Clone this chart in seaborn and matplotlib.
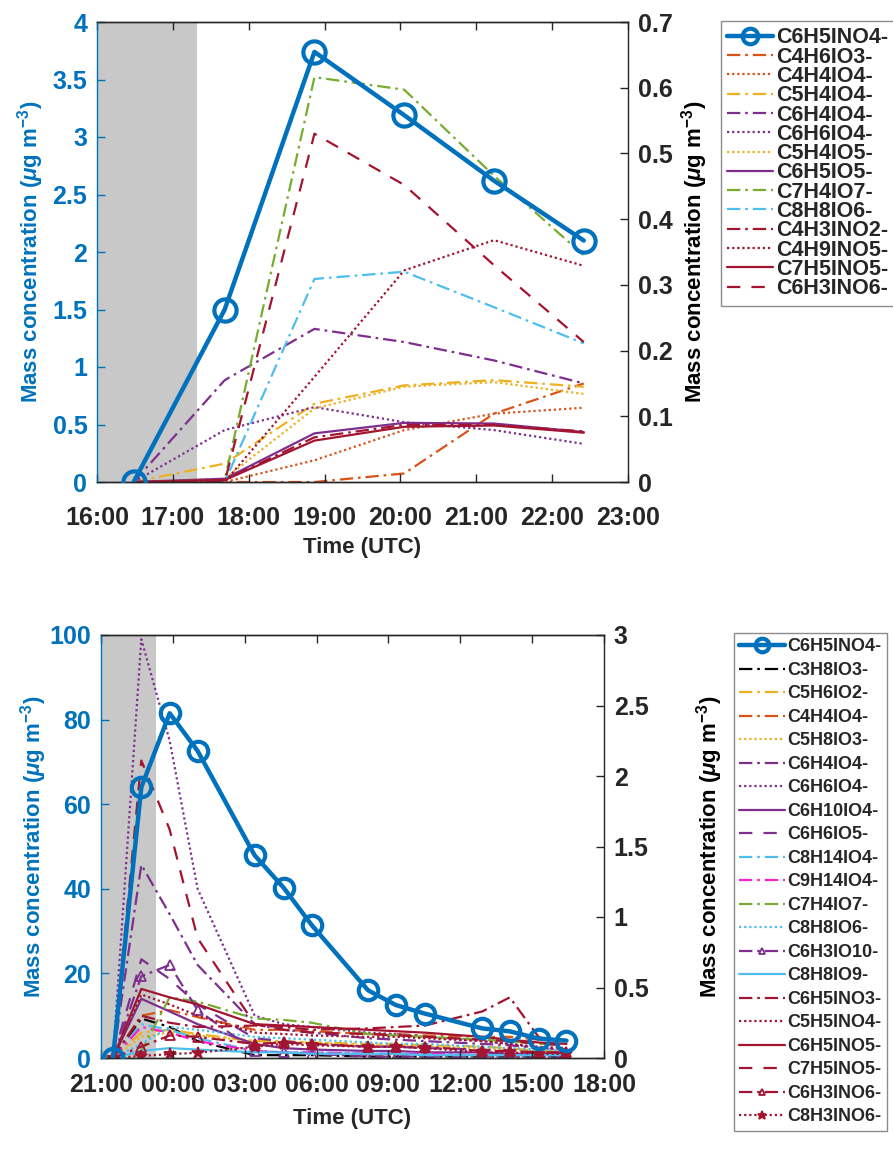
import matplotlib
matplotlib.use("Agg")
import matplotlib.pyplot as plt
import seaborn as sns
from matplotlib.ticker import FuncFormatter, FixedLocator

# ------------------------------------------------------------------
# Panel (a) data
# ------------------------------------------------------------------
top_times = ["16:29", "17:41", "18:52", "20:03", "21:14", "22:25"]
top_main_name = "C6H5INO4-"
top_main = [0.0, 1.50, 3.74, 3.19, 2.62, 2.10]          # left axis

top_C4H6IO3 = [0.0, 0.0, 0.0, 0.013, 0.104, 0.150]
top_C4H4IO4 = [0.0, 0.0, 0.033, 0.079, 0.104, 0.113]
top_C5H4IO4 = [0.0, 0.028, 0.119, 0.147, 0.155, 0.145]
top_C6H4IO4 = [0.0, 0.155, 0.233, 0.213, 0.185, 0.150]
top_C6H6IO4 = [0.0, 0.079, 0.114, 0.091, 0.079, 0.058]
top_C5H4IO5 = [0.0, 0.005, 0.112, 0.145, 0.152, 0.134]
top_C6H5IO5 = [0.0, 0.005, 0.074, 0.090, 0.089, 0.076]
top_C7H4IO7 = [0.0, 0.003, 0.616, 0.597, 0.466, 0.345]
top_C8H8IO6 = [0.0, 0.0, 0.309, 0.320, 0.266, 0.211]
top_C4H3INO2 = [0.0, 0.003, 0.068, 0.087, 0.087, 0.077]
top_C4H9INO5 = [0.0, 0.0, 0.160, 0.322, 0.368, 0.329]
top_C7H5INO5 = [0.0, 0.003, 0.063, 0.084, 0.086, 0.075]
top_C6H3INO6 = [0.0, 0.0, 0.530, 0.452, 0.330, 0.213]

top_xticklabels = ["16:00", "17:00", "18:00", "19:00", "20:00", "21:00", "22:00", "23:00"]
top_left_ticks = [0, 0.5, 1, 1.5, 2, 2.5, 3, 3.5, 4]
top_right_ticks = [0, 0.1, 0.2, 0.3, 0.4, 0.5, 0.6, 0.7]
top_shade = ["16:00", "17:19"]

# ------------------------------------------------------------------
# Panel (b) data
# ------------------------------------------------------------------
bot_times = ["21:30", "22:41", "23:52", "01:02", "03:25", "04:38", "05:48",
             "08:09", "09:19", "10:31", "12:55", "14:04", "15:16", "16:26"]
bot_main_name = "C6H5INO4-"
bot_main = [0.0, 64.0, 81.5, 72.6, 47.9, 40.2, 31.4, 16.0, 12.5, 10.5, 7.0, 6.3, 4.6, 4.1]

bot_C3H8IO3 = [0, 0.28, 0.22, 0.12, 0.02, 0.02, 0.02, 0.01, 0.01, 0.01, 0.01, 0.01, 0.01, 0.01]
bot_C5H6IO2 = [0, 0.18, 0.20, 0.17, 0.12, 0.12, 0.11, 0.10, 0.10, 0.09, 0.08, 0.07, 0.05, 0.05]
bot_C4H4IO4 = [0, 0.30, 0.34, 0.29, 0.20, 0.20, 0.19, 0.17, 0.17, 0.16, 0.15, 0.15, 0.13, 0.13]
bot_C5H8IO3 = [0, 0.15, 0.18, 0.16, 0.12, 0.11, 0.11, 0.09, 0.09, 0.08, 0.07, 0.06, 0.05, 0.05]
bot_C6H4IO4 = [0, 1.37, 1.02, 0.66, 0.24, 0.20, 0.18, 0.14, 0.13, 0.12, 0.10, 0.09, 0.07, 0.06]
bot_C6H6IO4 = [0, 2.97, 2.25, 1.20, 0.30, 0.24, 0.22, 0.18, 0.17, 0.15, 0.12, 0.10, 0.07, 0.06]
bot_C6H10IO4 = [0, 0.42, 0.33, 0.24, 0.10, 0.07, 0.06, 0.05, 0.05, 0.04, 0.04, 0.03, 0.03, 0.03]
bot_C6H6IO5 = [0, 0.70, 0.56, 0.38, 0.14, 0.12, 0.10, 0.08, 0.08, 0.07, 0.06, 0.05, 0.04, 0.04]
bot_C8H14IO4 = [0, 0.24, 0.20, 0.14, 0.05, 0.04, 0.04, 0.03, 0.03, 0.03, 0.02, 0.02, 0.02, 0.02]
bot_C9H14IO4 = [0, 0.22, 0.18, 0.12, 0.05, 0.04, 0.04, 0.03, 0.03, 0.03, 0.02, 0.02, 0.02, 0.02]
bot_C7H4IO7 = [0, 0.05, 0.43, 0.40, 0.28, 0.27, 0.25, 0.17, 0.16, 0.15, 0.13, 0.12, 0.10, 0.10]
bot_C8H8IO6 = [0, 0.10, 0.22, 0.20, 0.15, 0.14, 0.13, 0.11, 0.10, 0.10, 0.08, 0.07, 0.06, 0.05]
bot_C6H3IO10 = [0, 0.58, 0.66, 0.34, 0.05, 0.04, 0.03, 0.01, 0.01, 0.01, 0.01, 0.01, 0.01, 0.01]
bot_C8H8IO9 = [0, 0.05, 0.07, 0.06, 0.04, 0.04, 0.03, 0.03, 0.03, 0.02, 0.02, 0.02, 0.02, 0.02]
bot_C6H5INO3 = [0, 0.30, 0.25, 0.22, 0.23, 0.22, 0.20, 0.21, 0.22, 0.23, 0.33, 0.43, 0.15, 0.12]
bot_C5H5INO4 = [0, 0.45, 0.38, 0.30, 0.18, 0.17, 0.16, 0.15, 0.15, 0.14, 0.12, 0.10, 0.08, 0.07]
bot_C6H5INO5 = [0, 0.49, 0.43, 0.38, 0.24, 0.23, 0.22, 0.20, 0.19, 0.18, 0.15, 0.13, 0.11, 0.10]
bot_C7H5INO5 = [0, 2.11, 1.62, 0.85, 0.24, 0.20, 0.18, 0.17, 0.16, 0.15, 0.13, 0.12, 0.10, 0.09]
bot_C6H3INO6 = [0, 0.08, 0.16, 0.15, 0.10, 0.11, 0.10, 0.08, 0.08, 0.08, 0.05, 0.05, 0.04, 0.04]
bot_C8H3INO6 = [0, 0.015, 0.027, 0.037, 0.08, 0.10, 0.09, 0.08, 0.08, 0.07, 0.04, 0.04, 0.03, 0.03]

bot_xticklabels = ["21:00", "00:00", "03:00", "06:00", "09:00", "12:00", "15:00", "18:00"]
bot_left_ticks = [0, 20, 40, 60, 80, 100]
bot_right_ticks = [0, 0.5, 1, 1.5, 2, 2.5, 3]
bot_shade = ["21:00", "23:19"]

# ------------------------------------------------------------------
# styling
# ------------------------------------------------------------------
BLUE = "#0072BD"; ORANGE = "#D95319"; YELLOW = "#EDB120"; PURPLE = "#7E2F8E"
GREEN = "#77AC30"; CYAN = "#4DBEEE"; DRED = "#A2142F"; MAGENTA = "#FF1FCF"; BLACK = "#000000"
DASHDOT = (0, (6, 2.2, 1.2, 2.2)); DOT = (0, (1, 1.3)); LDASH = (0, (6, 5))
SOLID = "-"

top_series = [
    ("C4H6IO3-", top_C4H6IO3, ORANGE, DASHDOT, None),
    ("C4H4IO4-", top_C4H4IO4, ORANGE, DOT, None),
    ("C5H4IO4-", top_C5H4IO4, YELLOW, DASHDOT, None),
    ("C6H4IO4-", top_C6H4IO4, PURPLE, DASHDOT, None),
    ("C6H6IO4-", top_C6H6IO4, PURPLE, DOT, None),
    ("C5H4IO5-", top_C5H4IO5, YELLOW, DOT, None),
    ("C6H5IO5-", top_C6H5IO5, PURPLE, SOLID, None),
    ("C7H4IO7-", top_C7H4IO7, GREEN, DASHDOT, None),
    ("C8H8IO6-", top_C8H8IO6, CYAN, DASHDOT, None),
    ("C4H3INO2-", top_C4H3INO2, DRED, DASHDOT, None),
    ("C4H9INO5-", top_C4H9INO5, DRED, DOT, None),
    ("C7H5INO5-", top_C7H5INO5, DRED, SOLID, None),
    ("C6H3INO6-", top_C6H3INO6, DRED, LDASH, None),
]

bot_series = [
    ("C3H8IO3-", bot_C3H8IO3, BLACK, DASHDOT, None),
    ("C5H6IO2-", bot_C5H6IO2, YELLOW, DASHDOT, None),
    ("C4H4IO4-", bot_C4H4IO4, ORANGE, DASHDOT, None),
    ("C5H8IO3-", bot_C5H8IO3, YELLOW, DOT, None),
    ("C6H4IO4-", bot_C6H4IO4, PURPLE, DASHDOT, None),
    ("C6H6IO4-", bot_C6H6IO4, PURPLE, DOT, None),
    ("C6H10IO4-", bot_C6H10IO4, PURPLE, SOLID, None),
    ("C6H6IO5-", bot_C6H6IO5, PURPLE, LDASH, None),
    ("C8H14IO4-", bot_C8H14IO4, CYAN, DASHDOT, None),
    ("C9H14IO4-", bot_C9H14IO4, MAGENTA, DASHDOT, None),
    ("C7H4IO7-", bot_C7H4IO7, GREEN, DASHDOT, None),
    ("C8H8IO6-", bot_C8H8IO6, CYAN, DOT, None),
    ("C6H3IO10-", bot_C6H3IO10, PURPLE, DASHDOT, "^"),
    ("C8H8IO9-", bot_C8H8IO9, CYAN, SOLID, None),
    ("C6H5INO3-", bot_C6H5INO3, DRED, DASHDOT, None),
    ("C5H5INO4-", bot_C5H5INO4, DRED, DOT, None),
    ("C6H5INO5-", bot_C6H5INO5, DRED, SOLID, None),
    ("C7H5INO5-", bot_C7H5INO5, DRED, LDASH, None),
    ("C6H3INO6-", bot_C6H3INO6, DRED, DASHDOT, "^"),
    ("C8H3INO6-", bot_C8H3INO6, DRED, DOT, "*"),
]


def to_hours(s, wrap=None):
    h, m = s.split(":")
    v = int(h) + int(m) / 60.0
    if wrap is not None and v < wrap:
        v += 24
    return v


sns.set_theme(style="white")
plt.rcParams["font.family"] = ["Liberation Sans", "DejaVu Sans"]
plt.rcParams["font.weight"] = "bold"
plt.rcParams["axes.labelweight"] = "bold"
plt.rcParams["mathtext.fontset"] = "custom"
plt.rcParams["mathtext.rm"] = "Liberation Sans:bold"
plt.rcParams["mathtext.it"] = "Liberation Sans:italic:bold"
plt.rcParams["mathtext.bf"] = "Liberation Sans:bold"

W, H = 893, 1170
fig = plt.figure(figsize=(W / 100, H / 100), dpi=100)

YLABEL = r"Mass concentration ($\mu$g m$^{\mathrm{-3}}$)"
fmt = FuncFormatter(lambda v, p: f"{v:g}")
DARK = "#262626"


def make_panel(rect_px, times, wrap, main, main_name, series, xlim, xticks, xticklabels,
               lticks, rticks, shade, ylab_l_px, ylab_r_px, xpad, xlab_off,
               legend_xy, legend_fs, legend_ls, legend_hl, mk_main):
    l, t, r, b = rect_px
    ax = fig.add_axes([l / W, 1 - b / H, (r - l) / W, (b - t) / H])
    ax2 = ax.twinx()
    x = [to_hours(s, wrap) for s in times]

    ax2.axvspan(to_hours(shade[0], wrap), to_hours(shade[1], wrap),
                color="#C8C8C8", lw=0, zorder=0)
    for name, vals, col, ls, mk in series:
        kw = dict(marker=mk, markersize=7 if mk != "*" else 9,
                  markerfacecolor="none" if mk == "^" else col,
                  markeredgecolor=col, markeredgewidth=1.3) if mk else dict(marker=None)
        sns.lineplot(x=x, y=vals, ax=ax2, color=col, linestyle=ls, linewidth=1.6,
                     label=name, legend=False, estimator=None, sort=False, **kw)
    sns.lineplot(x=x, y=main, ax=ax, color=BLUE, linewidth=3.2, marker="o",
                 markersize=mk_main, markerfacecolor="none", markeredgecolor=BLUE,
                 markeredgewidth=3.0, label=main_name, legend=False,
                 estimator=None, sort=False, zorder=5)

    ax.set_zorder(ax2.get_zorder() + 1)
    ax.patch.set_visible(False)

    ax.set_xlim(xlim)
    ax.xaxis.set_major_locator(FixedLocator(xticks))
    ax.set_xticklabels(xticklabels)
    ax.set_ylim(lticks[0], lticks[-1])
    ax.set_yticks(lticks)
    ax2.set_ylim(rticks[0], rticks[-1])
    ax2.set_yticks(rticks)
    ax.yaxis.set_major_formatter(fmt)
    ax2.yaxis.set_major_formatter(fmt)

    ax.tick_params(axis="x", direction="in", length=6, width=1, top=True, bottom=True,
                   labelsize=18, colors=DARK, pad=xpad)
    ax.tick_params(axis="y", direction="in", length=6, width=1, left=True, right=False,
                   labelsize=18, colors=BLUE, pad=7)
    ax2.tick_params(axis="y", direction="in", length=6, width=1, right=True,
                    labelsize=18, colors=DARK, pad=7)
    for lab in ax.get_xticklabels() + ax.get_yticklabels() + ax2.get_yticklabels():
        lab.set_fontweight("bold")

    ax.spines["left"].set_color(BLUE)
    ax.spines["right"].set_visible(False)
    ax.spines["top"].set_color(DARK)
    ax.spines["bottom"].set_color(DARK)
    ax2.spines["left"].set_visible(False)
    ax2.spines["right"].set_color(DARK)
    for sp in list(ax.spines.values()) + list(ax2.spines.values()):
        sp.set_linewidth(1.0)

    ax.set_xlabel("Time (UTC)", fontsize=16, fontweight="bold", color=DARK)
    ax.xaxis.set_label_coords(0.5, -xlab_off / (b - t))
    ax.set_ylabel(YLABEL, fontsize=16, fontweight="bold", color=BLUE)
    ax.yaxis.set_label_coords((ylab_l_px - l) / (r - l), 0.5)
    ax2.set_ylabel(YLABEL, fontsize=16, fontweight="bold", color=BLACK)
    ax2.yaxis.set_label_coords((ylab_r_px - l) / (r - l), 0.5)

    handles = [ax.get_lines()[0]] + [ln for ln in ax2.get_lines()]
    labels = [h.get_label() for h in handles]
    leg = fig.legend(handles, labels, loc="upper left",
                     bbox_to_anchor=(legend_xy[0] / W, 1 - legend_xy[1] / H),
                     borderaxespad=0, frameon=True, fancybox=False, framealpha=1,
                     edgecolor="#8c8c8c", fontsize=legend_fs, labelspacing=legend_ls,
                     handlelength=legend_hl, handletextpad=0.15, borderpad=0.3,
                     numpoints=1, markerscale=0.7)
    leg.get_frame().set_linewidth(1.0)
    for txt in leg.get_texts():
        txt.set_fontweight("bold")
    return ax, ax2


make_panel((97, 22, 628, 482), top_times, None, top_main, top_main_name, top_series,
           (16, 23), list(range(16, 24)), top_xticklabels,
           top_left_ticks, top_right_ticks, top_shade, 46, 679, 17, 55,
           (721, 21), 15.5, -0.08, 2.1, 16)

make_panel((101, 635, 604, 1058), bot_times, 20, bot_main, bot_main_name, bot_series,
           (21, 42), list(range(21, 43, 3)), bot_xticklabels,
           bot_left_ticks, bot_right_ticks, bot_shade, 49, 694, 11, 50,
           (734, 633), 13, 0.36, 2.5, 14)

fig.savefig("out.png", dpi=100)
